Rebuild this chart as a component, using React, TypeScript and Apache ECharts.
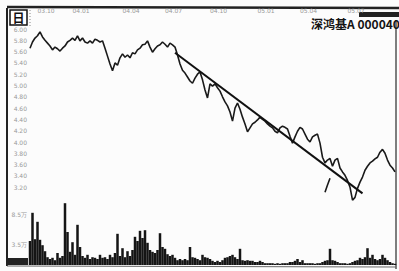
import React, { useEffect, useRef } from "react";
import * as echarts from "echarts";

// Daily close (sampled), 深鸿基A 000040
const closePrices = [
  5.66, 5.77, 5.84, 5.88, 5.95, 5.86, 5.80, 5.75, 5.70, 5.63,
  5.68, 5.65, 5.61, 5.66, 5.70, 5.77, 5.80, 5.84, 5.80, 5.88,
  5.79, 5.84, 5.77, 5.75, 5.79, 5.75, 5.82, 5.80, 5.77, 5.79,
  5.66, 5.52, 5.38, 5.26, 5.40, 5.36, 5.49, 5.56, 5.50, 5.54,
  5.49, 5.58, 5.56, 5.63, 5.66, 5.72, 5.73, 5.79, 5.68, 5.59,
  5.65, 5.70, 5.72, 5.77, 5.73, 5.68, 5.75, 5.72, 5.68, 5.54,
  5.38, 5.27, 5.22, 5.15, 5.08, 5.04, 5.13, 5.20, 5.24, 5.10,
  4.92, 4.78, 5.03, 4.99, 5.03, 4.96, 4.90, 4.80, 4.71, 4.64,
  4.53, 4.37, 4.60, 4.69, 4.58, 4.44, 4.32, 4.18, 4.25, 4.32,
  4.35, 4.39, 4.44, 4.40, 4.37, 4.32, 4.28, 4.25, 4.19, 4.16,
  4.25, 4.28, 4.26, 4.23, 4.10, 3.98, 4.09, 4.19, 4.26, 4.23,
  4.14, 4.05, 4.00, 4.09, 4.12, 4.14, 3.98, 3.73, 3.63, 3.68,
  3.71, 3.57, 3.68, 3.71, 3.54, 3.47, 3.41, 3.32, 3.20, 2.97,
  3.02, 3.18, 3.29, 3.38, 3.50, 3.57, 3.63, 3.66, 3.70, 3.73,
  3.82, 3.87, 3.80, 3.68, 3.59, 3.54, 3.47,
];

// Isolated low segment (separate trading bars)
const lowSegStart = 118;
const lowSegValues = [3.11, 3.24, 3.36];

// Volume (万手)
const volumes = [
  4.0, 8.7, 4.3, 7.2, 4.2, 3.3, 2.3, 1.3, 1.0, 1.2,
  0.8, 2.0, 1.2, 1.5, 10.3, 5.5, 2.2, 3.8, 1.7, 6.7,
  3.0, 1.5, 1.2, 1.7, 1.0, 1.3, 1.2, 1.0, 1.7, 1.2,
  1.3, 1.0, 1.7, 1.3, 2.0, 5.2, 1.5, 2.8, 1.3, 2.3,
  1.5, 2.5, 4.7, 4.0, 5.7, 4.5, 5.8, 3.7, 2.5, 2.2,
  2.0, 2.5, 5.3, 3.0, 2.7, 1.8, 1.5, 1.7, 1.2, 0.8,
  1.0, 0.8, 1.0, 0.8, 3.0, 1.3, 1.2, 1.0, 0.8, 1.7,
  1.3, 1.2, 1.0, 0.7, 0.5, 0.7, 0.5, 0.8, 1.2, 1.3,
  1.5, 1.7, 1.3, 1.0, 2.7, 0.8, 0.7, 0.8, 0.7, 0.7,
  0.5, 0.5, 0.7, 0.5, 0.3, 0.3, 0.3, 0.3, 0.2, 0.3,
  0.2, 0.3, 0.3, 0.3, 0.5, 0.5, 0.7, 1.0, 0.5, 0.8,
  0.3, 0.3, 0.3, 0.3, 0.2, 0.3, 0.3, 0.5, 0.7, 0.8,
  2.7, 0.8, 0.7, 0.5, 0.3, 0.3, 0.3, 0.2, 0.3, 0.5,
  0.7, 0.8, 1.2, 1.0, 1.3, 2.8, 1.2, 1.7, 1.0, 0.8,
  1.0, 1.7, 1.2, 0.8, 0.5, 0.3, 0.2,
];

// Trend line (from index/value to index/value)
const trendFrom = [58, 5.58];
const trendTo = [133, 3.09];

// Axis labels
const priceTicks = [6.0, 5.8, 5.6, 5.4, 5.2, 5.0, 4.8, 4.6, 4.4, 4.2, 4.0, 3.8, 3.6, 3.4, 3.2];
const volumeTicks = [8.5, 3.5];
const dateLabels = ["03.10", "04.01", "04.04", "04.07", "04.10", "05.01", "05.04", "05.07"];
const dateIndex = [3, 17, 37, 54, 72, 91, 108, 127];

const stockTitle = "深鸿基A 000040";

export default function App() {
  const ref = useRef<HTMLDivElement>(null);
  useEffect(() => {
    if (!ref.current) return;
    const chart = echarts.init(ref.current, undefined, { renderer: "svg" });
    const categories = closePrices.map((_, i) => String(i));
    const lowSeg = closePrices.map((_, i) =>
      i >= lowSegStart && i < lowSegStart + lowSegValues.length ? lowSegValues[i - lowSegStart] : null
    );
    const near = (arr: number[], v: number) => arr.some((t) => Math.abs(t - v) < 1e-6);
    const labelStyle = { color: "#999999", fontSize: 6, fontFamily: "DejaVu Sans" };
    chart.setOption({
      animation: false,
      backgroundColor: "#fcfcfc",
      grid: [
        { left: 30, right: 4, top: 29, bottom: 61.2 },
        { left: 30, right: 4, top: 199, bottom: 6 },
      ],
      xAxis: [
        {
          type: "category", gridIndex: 0, data: categories, boundaryGap: false,
          axisLine: { show: false }, axisTick: { show: false }, axisLabel: { show: false },
          splitLine: { show: false },
        },
        {
          type: "category", gridIndex: 0, data: categories, boundaryGap: false, position: "top",
          offset: 14,
          axisLine: { show: false }, axisTick: { show: false }, splitLine: { show: false },
          axisLabel: {
            ...labelStyle, interval: 0, margin: 2, align: "left",
            formatter: (_: string, idx: number) => {
              const k = dateIndex.indexOf(idx);
              return k >= 0 ? dateLabels[k] : "";
            },
          },
        },
        {
          type: "category", gridIndex: 1, data: categories, boundaryGap: false,
          axisLine: { show: false }, axisTick: { show: false }, axisLabel: { show: false },
        },
      ],
      yAxis: [
        {
          type: "value", gridIndex: 0, min: 2.8, max: 6.0, interval: 0.2,
          axisLine: { show: false }, axisTick: { show: false }, splitLine: { show: false },
          axisLabel: {
            ...labelStyle, margin: 3,
            formatter: (v: number) => (near(priceTicks, v) ? v.toFixed(2) : ""),
          },
        },
        {
          type: "value", gridIndex: 1, min: 0, max: 11, interval: 0.5,
          axisLine: { show: false }, axisTick: { show: false }, splitLine: { show: false },
          axisLabel: {
            ...labelStyle, margin: 3,
            formatter: (v: number) => (near(volumeTicks, v) ? v.toFixed(1) + "万" : ""),
          },
        },
      ],
      series: [
        {
          type: "line", xAxisIndex: 0, yAxisIndex: 0, data: closePrices, symbol: "none",
          lineStyle: { color: "#1a1a1a", width: 1.6 },
          markLine: {
            silent: true, symbol: ["none", "none"], label: { show: false },
            lineStyle: { color: "#111", width: 2, type: "solid" },
            data: [[{ coord: trendFrom }, { coord: trendTo }]],
          },
        },
        {
          type: "line", xAxisIndex: 0, yAxisIndex: 0, data: lowSeg, symbol: "none",
          connectNulls: false, lineStyle: { color: "#1a1a1a", width: 1.6 },
        },
        {
          type: "bar", xAxisIndex: 2, yAxisIndex: 1, data: volumes, barCategoryGap: "0%",
          itemStyle: { color: "#151515" },
        },
      ],
      graphic: [
        { type: "line", shape: { x1: 7, y1: 7, x2: 399, y2: 8 }, style: { stroke: "#222", lineWidth: 2.5 } },
        { type: "line", shape: { x1: 7, y1: 8, x2: 7, y2: 266 }, style: { stroke: "#222", lineWidth: 2 } },
        { type: "line", shape: { x1: 396, y1: 20, x2: 396, y2: 269 }, style: { stroke: "#555", lineWidth: 1.5 } },
        { type: "line", shape: { x1: 7, y1: 266, x2: 396, y2: 267 }, style: { stroke: "#666", lineWidth: 1 } },
        { type: "rect", shape: { x: 7, y: 258, width: 21, height: 7 }, style: { fill: "#222" } },
        { type: "rect", shape: { x: 10, y: 10, width: 17, height: 15 }, style: { fill: "#fff", stroke: "#111", lineWidth: 1.5 } },
        {
          type: "text", x: 18.5, y: 17.5,
          style: { text: "日", fill: "#111", fontSize: 12, fontWeight: "bold", fontFamily: "Noto Sans CJK SC", align: "center", verticalAlign: "middle" },
        },
        { type: "line", shape: { x1: 30, y1: 10, x2: 30, y2: 28 }, style: { stroke: "#888", lineWidth: 1, lineDash: [1, 2] } },
        { type: "rect", shape: { x: 359, y: 12, width: 40, height: 5 }, style: { fill: "#222" } },
        {
          type: "text", x: 311, y: 23,
          style: { text: stockTitle, fill: "#151515", fontSize: 12, fontWeight: "bold", fontFamily: "Noto Sans CJK SC", align: "left", verticalAlign: "middle" },
        },
      ],
    });
    return () => chart.dispose();
  }, []);
  return <div ref={ref} style={{ position: "fixed", left: 0, top: 0, width: 399, height: 271 }} />;
}
